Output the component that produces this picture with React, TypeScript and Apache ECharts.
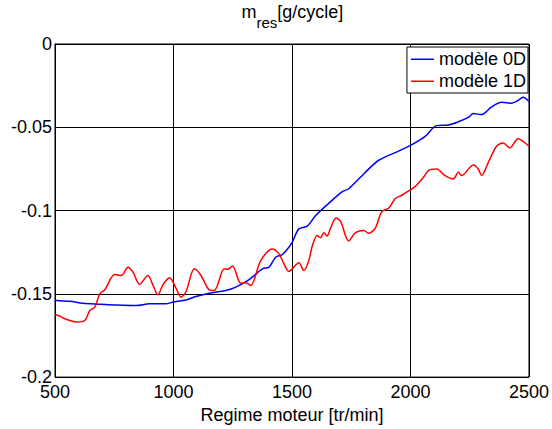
import React, { useEffect, useRef } from "react";
import * as echarts from "echarts";

const xTicks = [500, 1000, 1500, 2000, 2500];
const yTicks = [-0.2, -0.15, -0.1, -0.05, 0];

const rpm0D = [500, 507, 563, 618, 689, 759, 843, 899, 969, 996, 1053, 1095, 1151, 1221, 1263, 1319, 1375, 1403, 1431, 1459, 1487, 1501, 1529, 1564, 1600, 1655, 1711, 1739, 1789, 1824, 1866, 1950, 2006, 2062, 2110, 2160, 2202, 2244, 2265, 2300, 2342, 2384, 2426, 2454, 2475, 2500];
const val0D = [-0.1535, -0.154, -0.1545, -0.1557, -0.1562, -0.1567, -0.157, -0.156, -0.156, -0.155, -0.1537, -0.1516, -0.1496, -0.148, -0.146, -0.1415, -0.135, -0.134, -0.128, -0.1265, -0.122, -0.119, -0.111, -0.1094, -0.103, -0.0957, -0.0888, -0.0869, -0.08, -0.075, -0.0698, -0.0643, -0.0604, -0.0555, -0.049, -0.0486, -0.0467, -0.0441, -0.0418, -0.0424, -0.0378, -0.035, -0.0355, -0.0339, -0.032, -0.0345];

const rpm1D = [500, 507, 534, 563, 591, 626, 647, 668, 689, 710, 752, 780, 808, 829, 857, 892, 913, 934, 955, 983, 1011, 1032, 1053, 1088, 1116, 1151, 1172, 1214, 1228, 1249, 1284, 1305, 1326, 1368, 1417, 1445, 1466, 1487, 1529, 1550, 1571, 1585, 1606, 1620, 1634, 1648, 1663, 1686, 1705, 1739, 1768, 1803, 1824, 1852, 1879, 1908, 1936, 1963, 1992, 2020, 2055, 2076, 2110, 2146, 2181, 2202, 2216, 2265, 2286, 2300, 2328, 2363, 2391, 2419, 2454, 2475, 2500];
const val1D = [-0.163, -0.1627, -0.1645, -0.166, -0.1669, -0.166, -0.16, -0.158, -0.15, -0.1476, -0.1384, -0.139, -0.134, -0.137, -0.1443, -0.139, -0.1447, -0.1506, -0.1447, -0.1404, -0.1467, -0.152, -0.1486, -0.135, -0.139, -0.1476, -0.148, -0.135, -0.1353, -0.1333, -0.1437, -0.1433, -0.145, -0.13, -0.1231, -0.126, -0.132, -0.1365, -0.1314, -0.136, -0.13, -0.1216, -0.115, -0.1163, -0.1133, -0.1153, -0.1104, -0.1045, -0.1065, -0.1182, -0.1133, -0.112, -0.1137, -0.1104, -0.1006, -0.0986, -0.0928, -0.0908, -0.0882, -0.0855, -0.08, -0.076, -0.0751, -0.079, -0.081, -0.077, -0.079, -0.0727, -0.0751, -0.079, -0.0712, -0.0614, -0.0594, -0.0624, -0.0569, -0.0584, -0.0614];

const seriesNames = ["modèle 0D", "modèle 1D"];
const titleMain = "m";
const titleSub = "res";
const titleUnit = "[g/cycle]";
const FONT = "'Liberation Sans', Arial, sans-serif";
const LINE_ICON = "path://M0,0L0.01,0L0,0.01Z M0,6.6H23V8.1H0Z M0,14L0.01,14L0,13.99Z";

export default function App() {
  const ref = useRef<HTMLDivElement>(null);
  useEffect(() => {
    const chart = echarts.init(ref.current!, null, { renderer: "svg" });
    chart.setOption({
      animation: false,
      backgroundColor: "#ffffff",
      textStyle: { fontFamily: FONT },
      graphic: [
        {
          type: "text",
          x: 241.5,
          y: 12,
          style: { text: titleMain, font: `18px ${FONT}`, fill: "#000", verticalAlign: "middle", align: "left" },
        },
        {
          type: "text",
          x: 256.5,
          y: 22,
          style: { text: titleSub, font: `15px ${FONT}`, fill: "#000", verticalAlign: "middle", align: "left" },
        },
        {
          type: "text",
          x: 277.3,
          y: 12,
          style: { text: titleUnit, font: `18px ${FONT}`, fill: "#000", verticalAlign: "middle", align: "left" },
        },
      ],
      legend: {
        right: 24,
        top: 47,
        orient: "vertical",
        data: seriesNames,
        icon: LINE_ICON,
        backgroundColor: "#fff",
        borderColor: "#000",
        borderWidth: 1,
        borderRadius: 0,
        padding: [2, 2, 2, 4],
        itemGap: 2,
        itemWidth: 23,
        itemHeight: 14,
        textStyle: { fontSize: 18, color: "#000", lineHeight: 20, fontFamily: FONT },
      },
      grid: { left: 55, right: 21, top: 44, bottom: 46, show: true, borderColor: "#000", borderWidth: 1 },
      xAxis: {
        type: "value",
        min: xTicks[0],
        max: xTicks[xTicks.length - 1],
        interval: 500,
        name: "Regime moteur [tr/min]",
        nameLocation: "middle",
        nameGap: 20,
        nameTextStyle: { fontSize: 18, color: "#000", fontFamily: FONT },
        axisLine: { lineStyle: { color: "#000" } },
        axisTick: { show: false },
        axisLabel: { fontSize: 18, color: "#000", margin: 6, fontFamily: FONT, formatter: (v: number) => String(v) },
        splitLine: { show: true, lineStyle: { color: "#000", width: 1 } },
      },
      yAxis: {
        type: "value",
        min: yTicks[0],
        max: yTicks[yTicks.length - 1],
        interval: 0.05,
        axisLine: { show: true, lineStyle: { color: "#000" } },
        axisTick: { show: false },
        axisLabel: { fontSize: 18, color: "#000", margin: 3, fontFamily: FONT, formatter: (v: number) => String(Math.round(v * 100) / 100) },
        splitLine: { show: true, lineStyle: { color: "#000", width: 1 } },
      },
      series: [
        {
          name: seriesNames[0],
          type: "line",
          data: rpm0D.map((x, i) => [x, val0D[i]]),
          symbol: "none",
          smooth: 0.3,
          lineStyle: { color: "#0000ff", width: 1.5 },
          itemStyle: { color: "#0000ff" },
        },
        {
          name: seriesNames[1],
          type: "line",
          data: rpm1D.map((x, i) => [x, val1D[i]]),
          symbol: "none",
          smooth: 0.3,
          lineStyle: { color: "#ff0000", width: 1.5 },
          itemStyle: { color: "#ff0000" },
        },
      ],
    });
    return () => chart.dispose();
  }, []);
  return <div ref={ref} style={{ position: "fixed", left: 0, top: 0, width: 552, height: 429 }} />;
}
